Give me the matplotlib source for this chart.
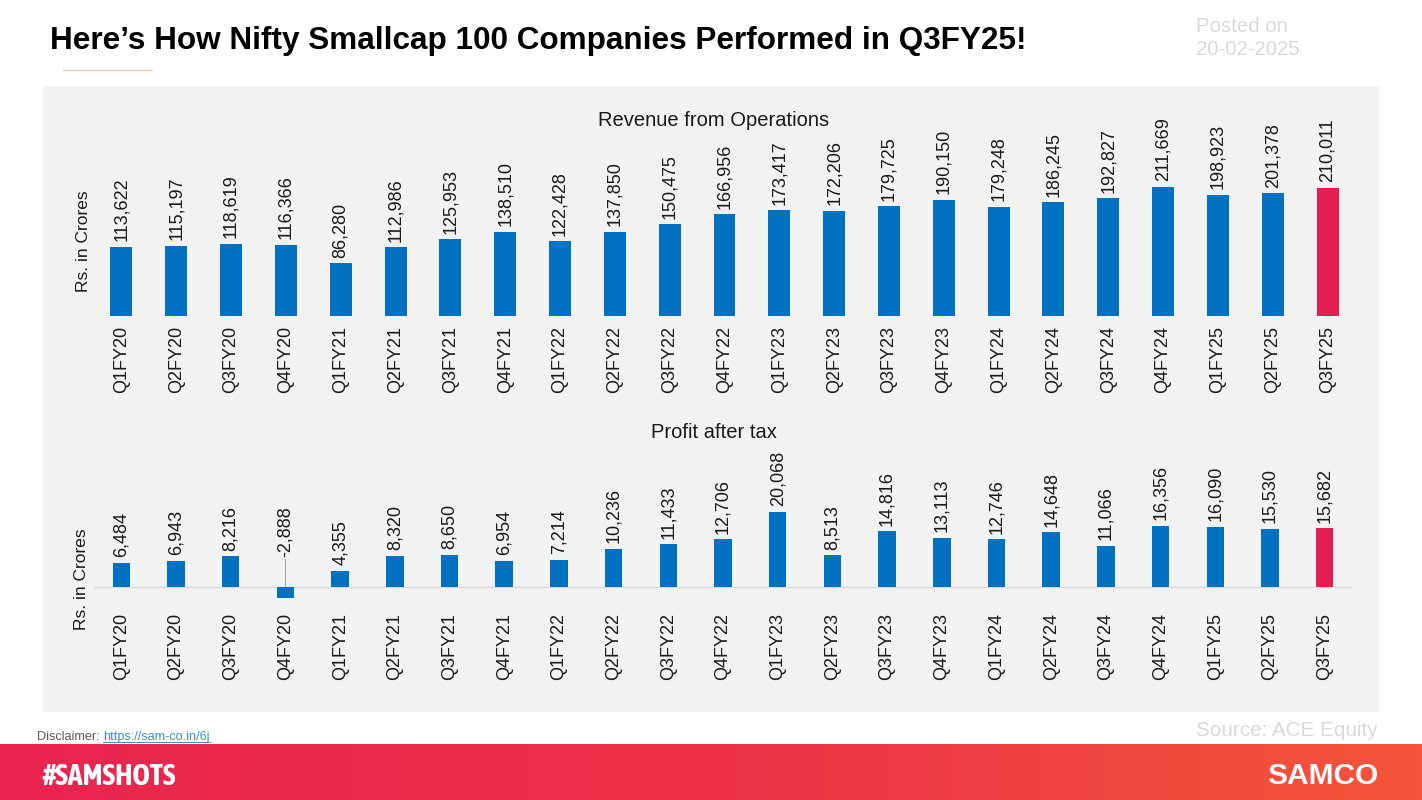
import numpy as np
import matplotlib.pyplot as plt
from matplotlib import font_manager
from matplotlib.patches import Rectangle
from matplotlib.lines import Line2D
from matplotlib.colors import LinearSegmentedColormap

plt.rcParams['font.family'] = ['Liberation Sans', 'DejaVu Sans']

quarters = ["Q1FY20", "Q2FY20", "Q3FY20", "Q4FY20", "Q1FY21", "Q2FY21", "Q3FY21", "Q4FY21",
            "Q1FY22", "Q2FY22", "Q3FY22", "Q4FY22", "Q1FY23", "Q2FY23", "Q3FY23", "Q4FY23",
            "Q1FY24", "Q2FY24", "Q3FY24", "Q4FY24", "Q1FY25", "Q2FY25", "Q3FY25"]
revenue = [113622, 115197, 118619, 116366, 86280, 112986, 125953, 138510, 122428, 137850,
           150475, 166956, 173417, 172206, 179725, 190150, 179248, 186245, 192827, 211669,
           198923, 201378, 210011]
profit = [6484, 6943, 8216, -2888, 4355, 8320, 8650, 6954, 7214, 10236, 11433, 12706,
          20068, 8513, 14816, 13113, 12746, 14648, 11066, 16356, 16090, 15530, 15682]

BLUE = "#0070c0"
RED = "#e41d52"
PANEL = "#f2f2f2"
TXT = "#1a1a1a"
W, H = 1422, 800
FS = 13

# a condensed face for the hashtag, if one is installed
narrow = None
for f in font_manager.fontManager.ttflist:
    if ("Condensed" in f.name or "Narrow" in f.name) and f.weight in ("bold", 700):
        narrow = f.name
        break
if narrow is None:
    for f in font_manager.fontManager.ttflist:
        if f.stretch in ("condensed", "semi-condensed", "extra-condensed") or \
                (isinstance(f.stretch, int) and f.stretch < 500):
            narrow = f.name
            break


def box(l, t, r, b):
    # pixel box -> figure fraction [left, bottom, width, height]
    return [l / W, 1 - b / H, (r - l) / W, (b - t) / H]


fig = plt.figure(figsize=(14.22, 8), dpi=100)
fig.patch.set_facecolor("white")

# grey panel and footer banner
bg = fig.add_axes([0, 0, 1, 1], zorder=-5)
bg.axis("off")
bg.add_patch(Rectangle((43, 86), 1336, 626, fc=PANEL, ec="none"))
grad = np.linspace(0, 1, 256)[None, :]
cmap = LinearSegmentedColormap.from_list("ban", ["#e8254f", "#ec3148", "#f5553a"])
bg.imshow(grad, extent=(0, W, 800, 744), cmap=cmap, aspect="auto", zorder=1)
bg.set_xlim(0, W)
bg.set_ylim(H, 0)
bg.add_line(Line2D([63, 152], [70, 70], color="#e9c9bf", lw=1))

colors = [BLUE] * (len(quarters) - 1) + [RED]
x = np.arange(len(quarters))


def style(ax, pad):
    ax.set_facecolor("none")
    ax.set_xlim(-0.5, len(quarters) - 0.5)
    ax.set_xticks(x)
    ax.set_xticklabels(quarters, rotation=90, fontsize=FS, color=TXT)
    ax.tick_params(axis="x", length=0, pad=pad)
    ax.set_yticks([])
    for s in ["top", "right", "left", "bottom"]:
        ax.spines[s].set_visible(False)


# revenue
ax1 = fig.add_axes(box(94, 100, 1355, 316))
ax1.bar(x, revenue, width=0.4, color=colors, zorder=3)
ax1.set_ylim(0, 216 / 0.00061)
style(ax1, 7)
ax1.axhline(0, color="#d9d9d9", lw=1, zorder=2)
for xi, v in zip(x, revenue):
    ax1.annotate(f"{v:,}", (xi, v), xytext=(0, 4), textcoords="offset points",
                 rotation=90, ha="center", va="bottom", fontsize=FS, color=TXT)

# profit
ax2 = fig.add_axes(box(94, 445, 1352, 602))
ax2.bar(x, profit, width=0.32, color=colors, zorder=3)
ax2.set_ylim(-15 / 0.00375, 142 / 0.00375)
style(ax2, 8)
ax2.axhline(0, color="#d9d9d9", lw=1, zorder=2)
for xi, v in zip(x, profit):
    if v >= 0:
        ax2.annotate(f"{v:,}", (xi, v), xytext=(0, 4), textcoords="offset points",
                     rotation=90, ha="center", va="bottom", fontsize=FS, color=TXT)
    else:
        ax2.plot([xi, xi], [0, 7400], color="#a6a6a6", lw=0.8, zorder=2)
        ax2.text(xi, 7900, f"{v:,}", rotation=90, ha="center", va="bottom",
                 fontsize=FS, color=TXT)

# chart titles and axis captions
fig.text(713.5 / W, 1 - 120.5 / H, "Revenue from Operations", ha="center", va="center",
         fontsize=14.5, color=TXT)
fig.text(713.5 / W, 1 - 433 / H, "Profit after tax", ha="center", va="center",
         fontsize=14.5, color=TXT)
fig.text(84 / W, 1 - 241 / H, "Rs. in Crores", rotation=90, ha="center", va="center",
         fontsize=12.5, color=TXT)
fig.text(81 / W, 1 - 579 / H, "Rs. in Crores", rotation=90, ha="center", va="center",
         fontsize=12.5, color=TXT)

# header
fig.text(50 / W, 1 - 49 / H, "Here\u2019s How Nifty Smallcap 100 Companies Performed in Q3FY25!",
         ha="left", va="baseline", fontsize=22.7, fontweight="bold", color="black")
fig.text(1196 / W, 1 - 31.5 / H, "Posted on", ha="left", va="baseline",
         fontsize=14.7, color="#d9d9d9")
fig.text(1196 / W, 1 - 55 / H, "20-02-2025", ha="left", va="baseline",
         fontsize=14.7, color="#d9d9d9")

# footer
fig.text(1196 / W, 1 - 736 / H, "Source: ACE Equity", ha="left", va="baseline",
         fontsize=14.9, color="#d9d9d9")
t = fig.text(37 / W, 1 - 740 / H, "Disclaimer: ", ha="left", va="baseline",
             fontsize=9.1, color="#595959")
renderer = fig.canvas.get_renderer()
bb = t.get_window_extent(renderer)
link = fig.text(bb.x1 / W, 1 - 740 / H, "https://sam-co.in/6j", ha="left", va="baseline",
                fontsize=9.1, color="#3d8fd1")
lb = link.get_window_extent(renderer)
bg.add_line(Line2D([lb.x0, lb.x1], [742, 742], color="#3d8fd1", lw=0.7))

if narrow is not None:
    fig.text(43 / W, 1 - 785 / H, "#SAMSHOTS", ha="left", va="baseline",
             fontsize=21.4, fontweight="bold", color="white", family=[narrow, "DejaVu Sans"])
else:
    fig.text(43 / W, 1 - 784 / H, "#SAMSHOTS", ha="left", va="baseline",
             fontsize=18, fontweight="bold", color="white")
fig.text(1378 / W, 1 - 784 / H, "SAMCO", ha="right", va="baseline",
         fontsize=21.5, fontweight="bold", color="white")

fig.savefig("out.png", dpi=100)
